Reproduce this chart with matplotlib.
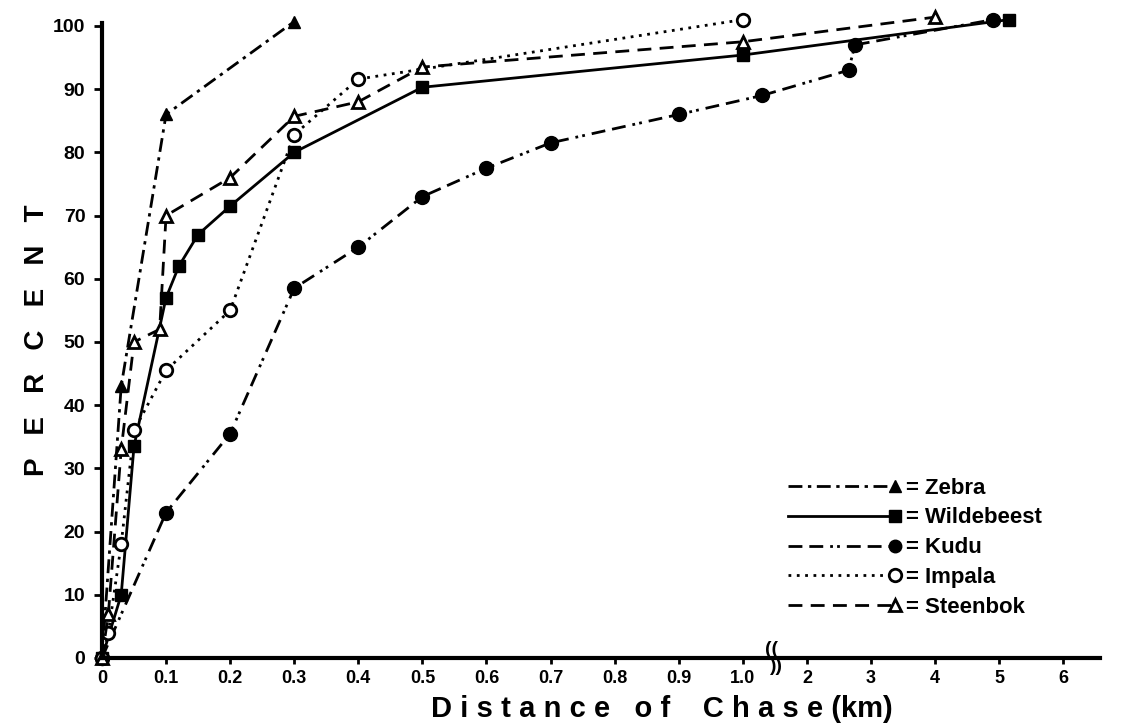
import matplotlib.pyplot as plt
import numpy as np
from matplotlib.legend_handler import HandlerLine2D

plt.rcParams['font.family'] = ['Liberation Sans', 'DejaVu Sans']
plt.rcParams['font.weight'] = 'bold'

# distance of chase (km) and cumulative percent
zebra_x = [0, 0.03, 0.1, 0.3]
zebra_y = [0, 43, 86, 100.7]

wild_x = [0, 0.03, 0.05, 0.1, 0.12, 0.15, 0.2, 0.3, 0.5, 1.0, 5.15]
wild_y = [0, 10, 33.5, 57, 62, 67, 71.5, 80, 90.3, 95.4, 101]

kudu_x = [0, 0.1, 0.2, 0.3, 0.4, 0.5, 0.6, 0.7, 0.9, 1.3, 2.65, 2.75, 4.9]
kudu_y = [0, 23, 35.5, 58.5, 65, 73, 77.5, 81.5, 86, 89, 93, 97, 101]

impala_x = [0, 0.01, 0.03, 0.05, 0.1, 0.2, 0.3, 0.4, 1.0]
impala_y = [0, 4, 18, 36, 45.5, 55, 82.8, 91.6, 101]

steen_x = [0, 0.01, 0.03, 0.05, 0.09, 0.1, 0.2, 0.3, 0.4, 0.5, 1.0, 4.0]
steen_y = [0, 7, 33, 50, 52, 70, 76, 85.7, 88, 93.5, 97.5, 101.4]

xticks = [0, 0.1, 0.2, 0.3, 0.4, 0.5, 0.6, 0.7, 0.8, 0.9, 1.0, 2, 3, 4, 5, 6]
xticklabels = ['0', '0.1', '0.2', '0.3', '0.4', '0.5', '0.6', '0.7', '0.8', '0.9',
               '1.0', '2', '3', '4', '5', '6']
yticks = list(range(0, 101, 10))


# broken axis: 0-1 km fine, beyond 1 km compressed 10x
def fwd(x):
    x = np.asarray(x, dtype=float)
    return np.where(x <= 1, x, 1 + (x - 1) / 10.0)


def inv(u):
    u = np.asarray(u, dtype=float)
    return np.where(u <= 1, u, 1 + (u - 1) * 10.0)


class EndMarker(HandlerLine2D):
    # marker sits at the right end of the sample line
    def create_artists(self, *args, **kwargs):
        arts = super().create_artists(*args, **kwargs)
        for a in arts:
            a.set_markevery([2])
        return arts


fig = plt.figure(figsize=(11.28, 7.24), dpi=100)
ax = fig.add_axes([0.0904, 0.0912, 0.8846, 0.8773])
ax.set_xscale('function', functions=(fwd, inv))

lw = 2.0
ax.plot(zebra_x, zebra_y, color='black', lw=lw, ls=(0, (5, 2, 1.2, 2)),
        marker='^', ms=9, mfc='black', mec='black', label='= Zebra', clip_on=False)
ax.plot(wild_x, wild_y, color='black', lw=lw, ls='-',
        marker='s', ms=8, mfc='black', mec='black', label='= Wildebeest', clip_on=False)
ax.plot(kudu_x, kudu_y, color='black', lw=lw, ls=(0, (5, 2.5, 5, 2.5, 1, 1.5, 1, 2.5)),
        marker='o', ms=10, mfc='black', mec='black', label='= Kudu', clip_on=False)
ax.plot(impala_x, impala_y, color='black', lw=lw, ls=(0, (1, 2)),
        marker='o', ms=9, mfc='white', mec='black', mew=2, label='= Impala', clip_on=False)
ax.plot(steen_x, steen_y, color='black', lw=lw, ls=(0, (5, 3)),
        marker='^', ms=9, mfc='white', mec='black', mew=2, label='= Steenbok', clip_on=False)

ax.set_xlim(0, 6.57)
ax.set_ylim(0, 100.5)
ax.set_xticks(xticks)
ax.set_xticklabels(xticklabels)
ax.set_yticks(yticks)

for s in ['top', 'right']:
    ax.spines[s].set_visible(False)
for s in ['left', 'bottom']:
    ax.spines[s].set_linewidth(3)
ax.tick_params(axis='y', direction='out', length=6, width=2, pad=6, labelsize=14)
ax.tick_params(axis='x', direction='out', length=4, width=2, pad=5, labelsize=13)

# axis break mark
ax.text(1.44, 0, '((', fontsize=14, ha='center', va='bottom', clip_on=False)
ax.text(1.52, 0, '))', fontsize=14, ha='center', va='top', clip_on=False)

ts = '\u2009\u200a'
xlab = '   '.join(ts.join(w) for w in ['Distance', 'of']) + '    ' + ts.join('Chase') + ' (km)'
ax.set_xlabel(xlab, fontsize=21, fontweight='bold')
ax.xaxis.set_label_coords(0.561, -0.058)
ax.set_ylabel('P   E   R   C   E   N   T', fontsize=20, fontweight='bold')
ax.yaxis.set_label_coords(-0.052, 0.5)

leg = ax.legend(loc='upper left', bbox_to_anchor=(0.681, 0.368),
                bbox_transform=fig.transFigure, frameon=False,
                handlelength=4.8, handletextpad=0.5, labelspacing=0.4,
                prop={'weight': 'bold', 'size': 16},
                handler_map={plt.Line2D: EndMarker(numpoints=1)})
for h in leg.get_lines():
    h.set_markersize(9)

fig.savefig('out.png', dpi=100)
